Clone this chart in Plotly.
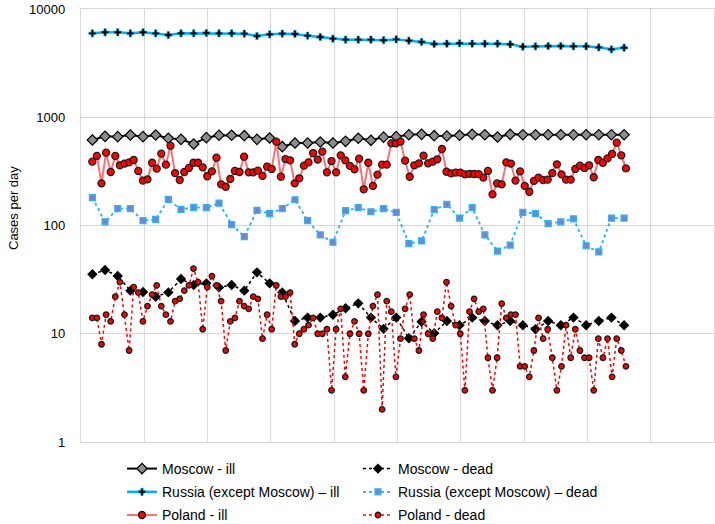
import plotly.graph_objects as go

# ---- data (cases per day) ----
# Moscow / Russia series: 43 samples
moscow_ill = [616, 666, 662, 685, 662, 685, 639, 625, 566, 648, 681, 681, 676, 625, 643,
              535, 578, 578, 591, 578, 599, 639, 612, 655, 662, 690, 695, 676, 671, 681,
              695, 690, 657, 695, 690, 690, 690, 690, 690, 690, 690, 690, 690]
moscow_dead = [35.4, 38.8, 34.2, 25.0, 24.3, 22.0, 24.1, 32.0, 28.2, 29.2, 26.8, 28.2, 25.0,
               36.9, 29.2, 24.1, 13.1, 14.1, 14.1, 15.0, 17.2, 19.1, 14.1, 11.1, 14.1, 9.1,
               12.9, 10.1, 13.1, 12.0, 14.1, 13.1, 12.0, 13.1, 12.0, 11.0, 13.1, 12.0, 14.1,
               12.0, 13.1, 14.1, 12.0]
russia_ill = [5960, 6090, 6090, 5960, 6090, 5960, 5750, 5960, 5960, 6000, 5960, 5960, 5920,
              5630, 5830, 5920, 5880, 5670, 5510, 5320, 5210, 5210, 5210, 5150, 5240, 5100,
              4960, 4750, 4780, 4820, 4780, 4780, 4780, 4720, 4490, 4520, 4550, 4550, 4520,
              4520, 4420, 4240, 4390]
russia_dead = [181, 108, 143, 143, 111, 114, 174, 141, 147, 146, 161, 102, 79, 138, 129,
               143, 173, 111, 82, 70, 137, 146, 134, 143, 132, 68, 72, 140, 157, 117, 146,
               82, 58, 66, 132, 129, 104, 108, 115, 65, 57, 117, 117]

# Poland series: 117 daily samples
poland_ill = [389, 439, 245, 471, 312, 439, 360, 373, 383, 403, 319, 260, 267, 380, 335,
              461, 365, 546, 305, 263, 312, 340, 380, 380, 345, 285, 316, 423, 240, 228,
              269, 319, 312, 432, 310, 310, 321, 287, 350, 333, 595, 282, 411, 400, 245,
              273, 357, 383, 467, 406, 481, 310, 394, 310, 445, 400, 355, 330, 414, 216,
              380, 232, 295, 365, 365, 574, 574, 595, 397, 282, 360, 375, 442, 375, 389,
              409, 509, 314, 303, 308, 308, 297, 300, 299, 298, 277, 319, 194, 245, 240,
              383, 373, 260, 316, 232, 205, 258, 277, 263, 265, 305, 367, 297, 265, 265,
              333, 357, 340, 360, 279, 403, 380, 417, 458, 582, 445, 337]
poland_dead = [14, 14, 8, 15, 13, 22, 30, 15, 7, 27, 24, 13, 18, 23, 28, 18, 15, 13, 20, 21,
               25, 28, 40, 30, 11, 27, 34, 28, 20, 7, 13, 14, 20, 18, 17, 22, 21, 9, 15, 11,
               28, 22, 22, 24, 8, 10, 11, 12, 14, 10, 10, 11, 3, 11, 17, 4, 10, 13, 10, 3,
               10, 18, 23, 2, 20, 16, 4, 9, 17, 23, 9, 7, 15, 10, 9, 16, 14, 30, 18, 12,
               10, 3, 16, 21, 16, 17, 6, 3, 6, 19, 14, 15, 15, 5, 5, 4, 7, 14, 9, 11,
               6, 3, 5, 12, 6, 11, 7, 6, 6, 3, 9, 6, 9, 4, 9, 7, 5]

y_ticks = [1, 10, 100, 1000, 10000]
y_tick_labels = ["1", "10", "100", "1000", "10000"]

x_ru = list(range(len(moscow_ill)))
x_pl = list(range(len(poland_ill)))

FONT = "Liberation Sans"

fig = go.Figure()
fig.add_trace(go.Scatter(
    x=x_ru, y=moscow_ill, name="Moscow - ill", mode="lines+markers",
    legend="legend", legendgroup="a",
    line=dict(color="#000000", width=2),
    marker=dict(symbol="diamond", size=8, color="#8C8C8C", line=dict(color="#000000", width=1.2))))
fig.add_trace(go.Scatter(
    x=x_ru, y=moscow_dead, name="Moscow - dead", mode="lines+markers",
    legend="legend2", legendgroup="b",
    line=dict(color="#000000", width=1.5, dash="dot"),
    marker=dict(symbol="diamond", size=8, color="#000000")))
fig.add_trace(go.Scatter(
    x=x_ru, y=russia_ill, name="Russia (except Moscow) \u2013 ill", mode="lines+markers",
    legend="legend", legendgroup="c",
    line=dict(color="#00B0F0", width=2.5),
    marker=dict(symbol="cross", size=6, color="#000000", line=dict(color="#00B0F0", width=0.6))))
fig.add_trace(go.Scatter(
    x=x_ru, y=russia_dead, name="Russia (except Moscow) \u2013 dead", mode="lines+markers",
    legend="legend2", legendgroup="d",
    line=dict(color="#1FB4F2", width=1.8, dash="dot"),
    marker=dict(symbol="square", size=6, color="#6F86D2", line=dict(color="#2FB5F2", width=1.2))))
fig.add_trace(go.Scatter(
    x=x_pl, y=poland_ill, name="Poland - ill", mode="lines+markers", xaxis="x2",
    legend="legend", legendgroup="e",
    line=dict(color="#FF6F73", width=2),
    marker=dict(symbol="circle", size=7, color="#FF0000", line=dict(color="#1A1A1A", width=1.3))))
fig.add_trace(go.Scatter(
    x=x_pl, y=poland_dead, name="Poland - dead", mode="lines+markers", xaxis="x2",
    legend="legend2", legendgroup="f",
    line=dict(color="#FF0000", width=1.5, dash="dot"),
    marker=dict(symbol="circle", size=5.5, color="#FF0000", line=dict(color="#1A1A1A", width=1.3))))

grid = "#D9D9D9"
leg_common = dict(orientation="v", yanchor="top", xanchor="left", tracegroupgap=2,
                  font=dict(family=FONT, size=14), bgcolor="rgba(0,0,0,0)")
fig.update_layout(
    width=715, height=524,
    margin=dict(l=81, r=1, t=9, b=82, autoexpand=False),
    paper_bgcolor="white", plot_bgcolor="white",
    font=dict(family=FONT, size=13, color="#000000"),
    showlegend=True,
    legend=dict(x=(122 - 81) / 633, y=-0.0254, **leg_common),
    legend2=dict(x=(358 - 81) / 633, y=-0.0254, **leg_common),
    xaxis=dict(range=[-0.9, 49.1], tick0=-0.9, dtick=5, showticklabels=False,
               showgrid=True, gridcolor=grid, gridwidth=1.3, zeroline=False,
               showline=True, linecolor=grid, linewidth=1.3, mirror=True, ticks="",
               automargin=False),
    xaxis2=dict(range=[-2.457, 135.15], overlaying="x", visible=False),
    yaxis=dict(type="log", range=[0, 4], tickvals=y_ticks, ticktext=y_tick_labels,
               showgrid=True, gridcolor=grid, gridwidth=1.3, zeroline=False,
               showline=True, linecolor=grid, linewidth=1.3, mirror=True,
               ticks="", ticklabelstandoff=12, automargin=False,
               tickfont=dict(family=FONT, size=13)),
    annotations=[dict(text="Cases per day", xref="paper", yref="paper",
                      x=(14 - 81) / 633, y=(442 - 208) / 433, textangle=-90,
                      showarrow=False, xanchor="center", yanchor="middle",
                      font=dict(family=FONT, size=13))],
)
fig.write_html("out.html", config={"displayModeBar": False},
               post_script="document.body.style.margin='0';document.body.style.overflow='hidden';")
